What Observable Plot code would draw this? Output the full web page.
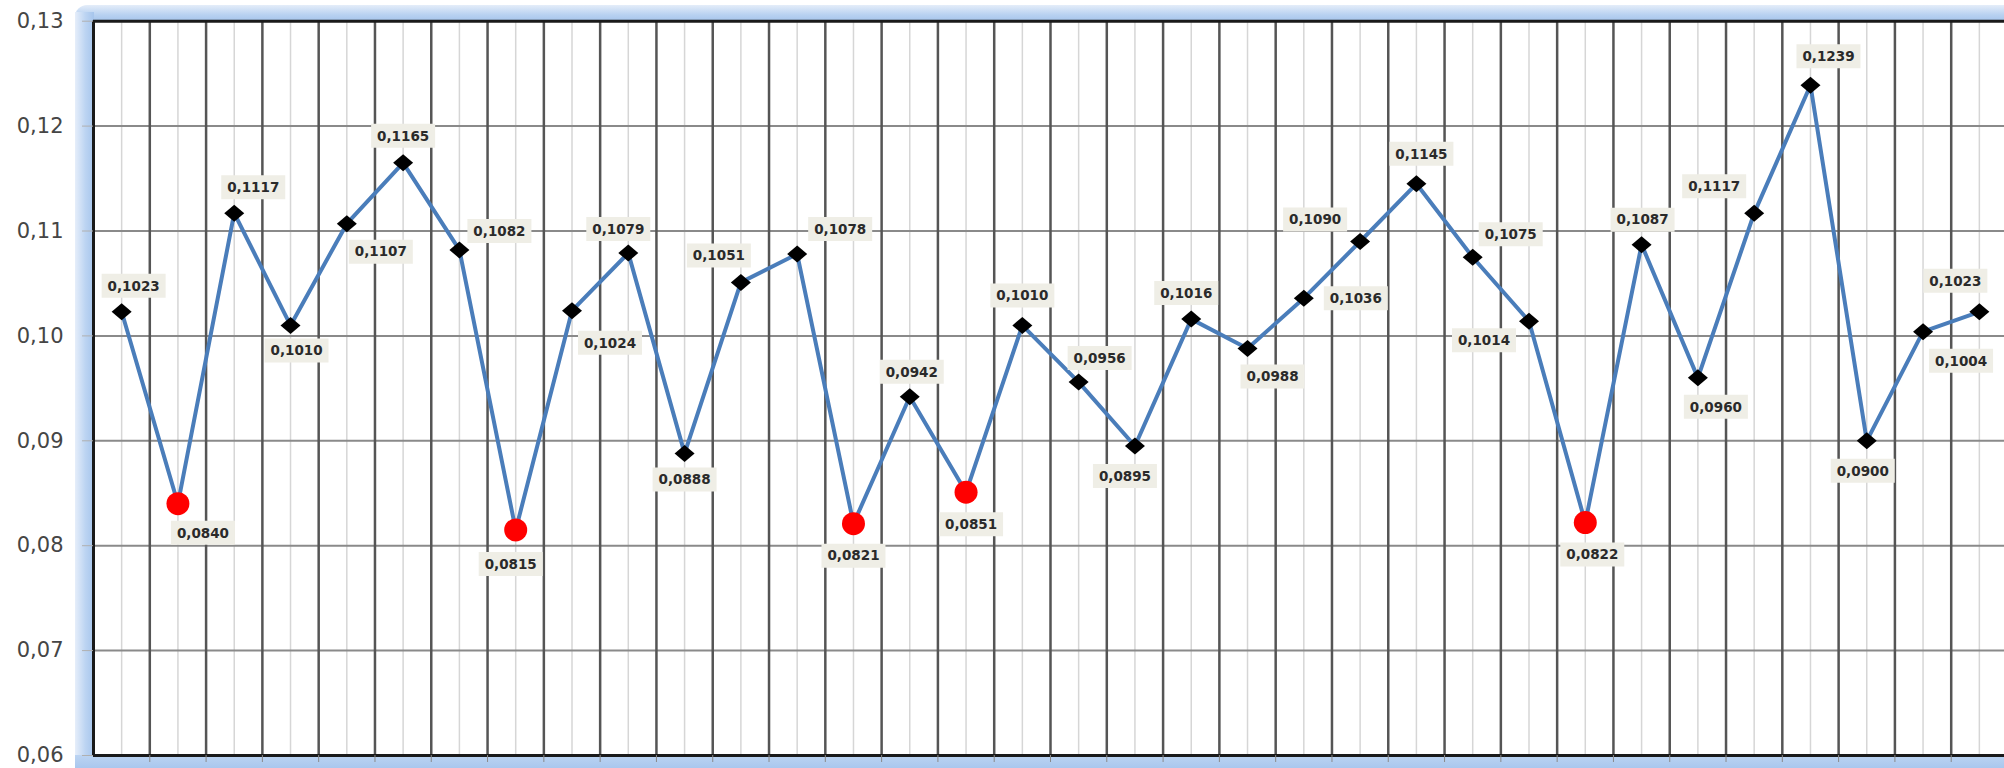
<!DOCTYPE html>
<html>
<head>
<meta charset="utf-8">
<script src="https://cdn.jsdelivr.net/npm/d3@7"></script>
<script src="https://cdn.jsdelivr.net/npm/@observablehq/plot@0.6"></script>
<style>
  html, body { margin: 0; padding: 0; background: #ffffff; overflow: hidden; }
  #wrap { position: relative; width: 2004px; height: 768px; }
  #bandTop { position: absolute; left: 75px; top: 5px; right: 0; height: 16px;
    background: linear-gradient(to bottom, #e4edf9 0%, #b9d2f1 60%, #a6c5ec 100%);
    border-top-left-radius: 12px; }
  #bandLeft { position: absolute; left: 75px; top: 12px; width: 19px; bottom: 0;
    background: linear-gradient(to right, #e6eefa 0%, #bcd4f2 55%, #a6c5ec 100%); }
  #bandBottom { position: absolute; left: 75px; bottom: 0; right: 0; height: 13px;
    background: linear-gradient(to bottom, #bcd4f2 0%, #a9c7ee 100%); }
  #chart { position: absolute; left: 0; top: 0; }
</style>
</head>
<body>
<div id="wrap">
  <div id="bandTop"></div>
  <div id="bandLeft"></div>
  <div id="bandBottom"></div>
  <div id="chart"></div>
</div>
<script>
// ---- data ----
const periods = [1,2,3,4,5,6,7,8,9,10,11,12,13,14,15,16,17,18,19,20,21,22,23,24,25,26,27,28,29,30,31,32,33,34];
const values = [0.1023,0.0840,0.1117,0.1010,0.1107,0.1165,0.1082,0.0815,0.1024,0.1079,
                0.0888,0.1051,0.1078,0.0821,0.0942,0.0851,0.1010,0.0956,0.0895,0.1016,
                0.0988,0.1036,0.1090,0.1145,0.1075,0.1014,0.0822,0.1087,0.0960,0.1117,
                0.1239,0.0900,0.1004,0.1023];
const highlighted = [2, 8, 14, 16, 27];
const yTicks = [0.06, 0.07, 0.08, 0.09, 0.10, 0.11, 0.12, 0.13];
// label placement relative to each point (pixels)
const labelDx = [12,25,19,6,34,0,40,-5,38,-10,0,-22,43,0,2,5,0,21,-10,-5,25,52,-45,5,38,-45,7,1,18,-40,18,-4,38,-24];
const labelDy = [-26,29,-26,25,28,-27,-19,34,32,-24,26,-27,-25,32,-25,32,-30,-24,30,-26,28,0,-22,-30,-23,19,32,-25,29,-27,-29,30,29,-31];

// ---- build ----
const fmt = v => v.toFixed(4).replace(".", ",");
const data = periods.map((p, i) => ({p, v: values[i], hi: highlighted.includes(p), i}));
const normal = data.filter(d => !d.hi);
const reds = data.filter(d => d.hi);
const boundaries = periods.map(p => p + 0.5).slice(0, -1);
const innerY = yTicks.slice(1, -1);

const diamond = { draw(ctx) { ctx.moveTo(0, -8.5); ctx.lineTo(10, 0); ctx.lineTo(0, 8.5); ctx.lineTo(-10, 0); ctx.closePath(); } };
const box = { draw(ctx) { ctx.rect(-32, -12, 64, 24); } };

const labelMarks = data.flatMap(d => [
  Plot.dot([d], {x: "p", y: "v", symbol: box, fill: "#efeee6", stroke: "none", dx: labelDx[d.i], dy: labelDy[d.i]}),
  Plot.text([d], {x: "p", y: "v", text: d => fmt(d.v), dx: labelDx[d.i], dy: labelDy[d.i] + 0.5,
    fill: "#2a2a2a", fontSize: 13.5, fontWeight: "bold", textAnchor: "middle", lineAnchor: "middle"})
]);

const chart = Plot.plot({
  width: 2004,
  height: 768,
  marginLeft: 93,
  marginRight: -3,
  marginTop: 20.7,
  marginBottom: 13,
  style: {background: "transparent", fontFamily: "'DejaVu Sans', sans-serif", overflow: "visible"},
  x: {domain: [0.5, 34.5], axis: null},
  y: {domain: [0.06, 0.13], axis: null},
  marks: [
    Plot.frame({fill: "#ffffff", stroke: "none"}),
    Plot.ruleX(periods, {stroke: "#d6d6d6", strokeWidth: 1.5}),
    Plot.ruleY(innerY, {stroke: "#8a8a8a", strokeWidth: 2}),
    Plot.ruleX(boundaries, {stroke: "#555555", strokeWidth: 2.5}),
    Plot.ruleX([0.5], {stroke: "#1a1a1a", strokeWidth: 3}),
    Plot.ruleY([0.13], {stroke: "#1a1a1a", strokeWidth: 3}),
    Plot.ruleY([0.06], {stroke: "#1a1a1a", strokeWidth: 3}),
    Plot.axisY({ticks: yTicks, tickSize: 11, tickPadding: 19, tickFormat: d => d.toFixed(2).replace(".", ","),
      fontSize: 21, stroke: "#b0b0b0", fill: "#454545", label: null}),
    Plot.axisX({ticks: boundaries, tickSize: 7, tickFormat: () => "", stroke: "#8a8a8a", label: null}),
    Plot.line(data, {x: "p", y: "v", stroke: "#4a7dba", strokeWidth: 4, strokeLinejoin: "round"}),
    Plot.dot(normal, {x: "p", y: "v", symbol: diamond, fill: "#000000", stroke: "none"}),
    Plot.dot(reds, {x: "p", y: "v", r: 11.5, fill: "#ff0000", stroke: "none"}),
    ...labelMarks
  ]
});
document.getElementById("chart").appendChild(chart);
</script>
</body>
</html>
